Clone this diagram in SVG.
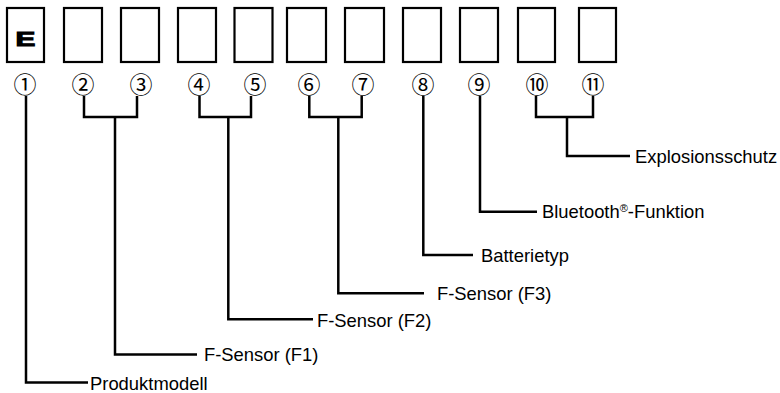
<svg xmlns="http://www.w3.org/2000/svg" width="780" height="393" viewBox="0 0 780 393">
<style>
.box{fill:#fff;stroke:#000;stroke-width:2.2}
.num{font-family:"Noto Sans CJK JP","DejaVu Sans",sans-serif;font-size:23px;fill:#000;text-anchor:middle;dominant-baseline:central}
.lbl{font-family:"Liberation Sans",Arial,sans-serif;font-size:18.4px;fill:#000}
.ln{fill:none;stroke:#000;stroke-width:2.5;stroke-linejoin:miter;stroke-linecap:butt}
.e{font-family:"Liberation Sans",Arial,sans-serif;font-weight:bold;font-size:20.5px;fill:#000;stroke:#000;stroke-width:1.1;text-anchor:middle}
</style>
<rect width="780" height="393" fill="#fff"/>
<g id="pos1"><rect class="box" x="7" y="8" width="37" height="54"/><text class="e" transform="translate(25.5,45.5) scale(1.45,1)">E</text><text class="num" x="25" y="82.5">①</text></g>
<g id="pos2"><rect class="box" x="64" y="8" width="38" height="54"/><text class="num" x="83" y="82.5">②</text></g>
<g id="pos3"><rect class="box" x="121" y="8" width="38" height="54"/><text class="num" x="141" y="82.5">③</text></g>
<g id="pos4"><rect class="box" x="178" y="8" width="38" height="54"/><text class="num" x="199" y="82.5">④</text></g>
<g id="pos5"><rect class="box" x="234.5" y="8" width="38" height="54"/><text class="num" x="255" y="82.5">⑤</text></g>
<g id="pos6"><rect class="box" x="287" y="8" width="39" height="54"/><text class="num" x="309" y="82.5">⑥</text></g>
<g id="pos7"><rect class="box" x="345" y="8" width="39" height="54"/><text class="num" x="363" y="82.5">⑦</text></g>
<g id="pos8"><rect class="box" x="403" y="8" width="38" height="54"/><text class="num" x="423" y="82.5">⑧</text></g>
<g id="pos9"><rect class="box" x="460" y="8" width="38" height="54"/><text class="num" x="479" y="82.5">⑨</text></g>
<g id="pos10"><rect class="box" x="518" y="8" width="37" height="54"/><text class="num" x="537" y="82.5">⑩</text></g>
<g id="pos11"><rect class="box" x="579" y="8" width="37" height="54"/><text class="num" x="593" y="82.5">⑪</text></g>
<g id="connectors">
<path class="ln" d="M26,96 V382.5 H88"/>
<path class="ln" d="M84,96 V117 H137 V96 M115,117 V354.5 H197"/>
<path class="ln" d="M199.5,96 V117 H251 V96 M228.3,117 V319.3 H313"/>
<path class="ln" d="M309.3,96 V117 H361.7 V96 M338.3,117 V293.3 H424"/>
<path class="ln" d="M423.3,96 V255 H473"/>
<path class="ln" d="M480,96 V211.7 H537"/>
<path class="ln" d="M536,96 V117 H593 V96 M567,117 V156 H630"/>
</g>
<g id="label-produktmodell"><text class="lbl" x="90" y="389.5">Produktmodell</text></g>
<g id="label-f1"><text class="lbl" x="204" y="361">F-Sensor (F1)</text></g>
<g id="label-f2"><text class="lbl" x="317" y="326.5">F-Sensor (F2)</text></g>
<g id="label-f3"><text class="lbl" x="437" y="300">F-Sensor (F3)</text></g>
<g id="label-batterie"><text class="lbl" x="481" y="261.5">Batterietyp</text></g>
<g id="label-bluetooth"><text class="lbl" x="542" y="218">Bluetooth<tspan font-size="11" dy="-6">®</tspan><tspan dy="6">-Funktion</tspan></text></g>
<g id="label-ex"><text class="lbl" x="635" y="162.5">Explosionsschutz</text></g>
</svg>
